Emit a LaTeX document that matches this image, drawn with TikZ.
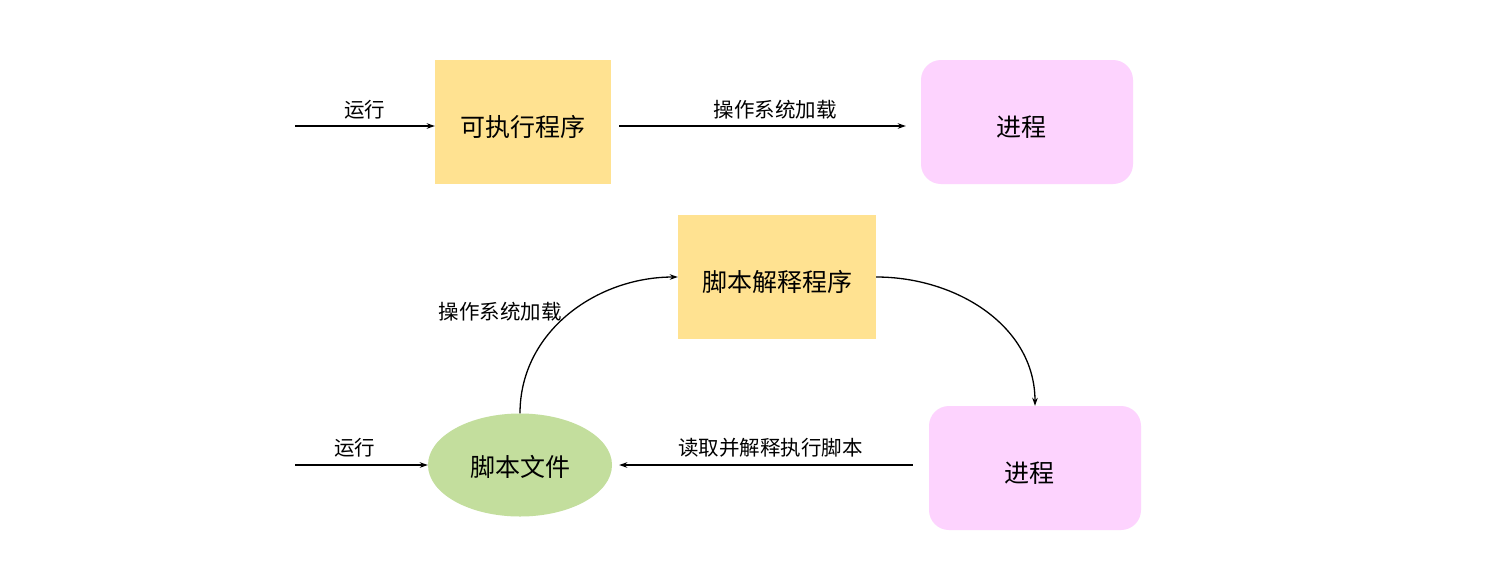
\documentclass[tikz,border=0pt]{standalone}
\usepackage{fontspec}
\setmainfont{Noto Sans CJK SC}
\usetikzlibrary{arrows.meta,shapes.geometric}
\definecolor{boxyellow}{HTML}{FFE291}
\definecolor{procpink}{HTML}{FDD3FE}
\definecolor{filegreen}{HTML}{C3DE9D}
\newcommand{\dnshift}[2][0pt]{\raisebox{-5pt}[\height][\depth]{\hspace*{#1}#2\hspace*{-#1}}}
\tikzset{
  bigtext/.style={font=\fontsize{25}{29}\selectfont},
  smalltext/.style={font=\fontsize{20.5}{24}\selectfont},
  progbox/.style={draw=none, fill=boxyellow, minimum height=124pt, inner sep=0pt, bigtext},
  procbox/.style={draw=none, fill=procpink, rounded corners=20pt, minimum width=212pt, minimum height=124pt, inner sep=0pt, bigtext},
  filell/.style={draw=none, fill=filegreen, ellipse, minimum width=184pt, minimum height=103pt, inner sep=0pt, bigtext},
  conn/.style={line width=1.3pt, -{Stealth[length=8pt,width=5.5pt]}},
  lbl/.style={smalltext, inner sep=2pt}
}
\begin{document}
\begin{tikzpicture}[x=1pt,y=-1pt]
\useasboundingbox[fill=white] (0,0) rectangle (1495,571);
% top row
\node[progbox, minimum width=176pt] (exe) at (523,122) {\dnshift{可执行程序}};
\node[procbox] (p1) at (1027,122) {\dnshift[-6pt]{进程}};
\coordinate (s1) at (295,126);
\draw[conn] (s1) -- (exe.west |- s1) node[lbl, midway, above=4pt] {运行};
\draw[conn, shorten <=8pt, shorten >=15pt] (exe.east |- s1) -- (p1.west |- s1) node[lbl, pos=0.53, above=4pt] {操作系统加载};
% bottom
\node[progbox, minimum width=198pt] (interp) at (777,277) {\dnshift{脚本解释程序}};
\node[procbox] (p2) at (1035,468) {\dnshift[-6pt]{进程}};
\node[filell] (file) at (520,465) {\raisebox{-2pt}[\height][\depth]{脚本文件}};
\coordinate (s2) at (295,465);
\draw[conn] (s2) -- (file.west) node[lbl, pos=0.45, above=5pt] {运行};
\draw[conn] (file.north) to[out=90,in=180] (interp.west);
\node[lbl] (lblload) at (500,312) {操作系统加载};
\draw[conn] (interp.east) to[out=0,in=90] (p2.north);
\draw[conn, shorten <=16pt, shorten >=7pt] (p2.west |- file.east) -- (file.east) node[lbl, midway, above=5pt] {读取并解释执行脚本};
\end{tikzpicture}
\end{document}
